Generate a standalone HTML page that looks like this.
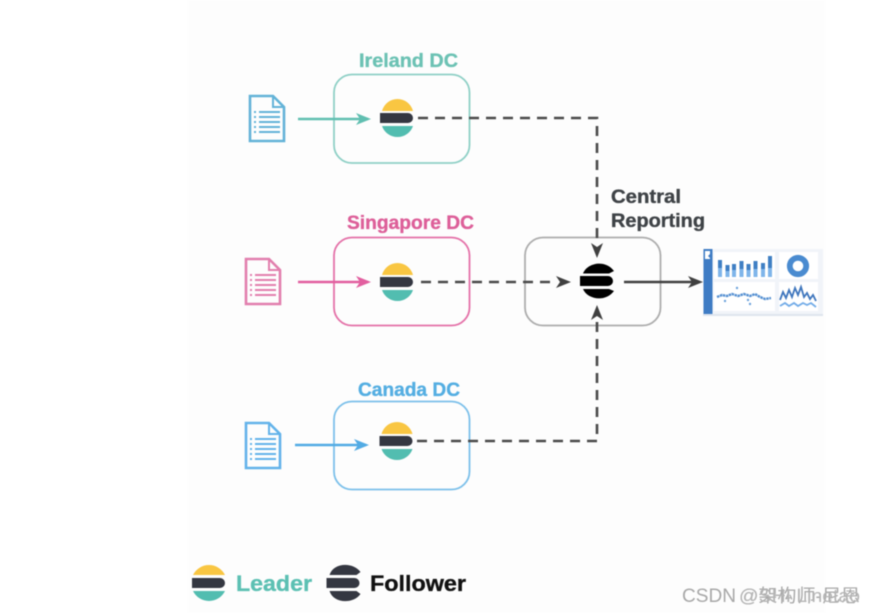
<!DOCTYPE html>
<html>
<head>
<meta charset="utf-8">
<style>
html,body{margin:0;padding:0;background:#fff;width:875px;height:613px;overflow:hidden}
svg{display:block;filter:blur(.6px)}
text{font-family:"Liberation Sans","Noto Sans CJK SC",sans-serif;font-weight:bold}
</style>
</head>
<body>
<svg width="875" height="613" viewBox="0 0 875 613" xmlns="http://www.w3.org/2000/svg">
<defs>
  <g id="lead">
    <path d="M-15.500-7A16 16 0 0 1 15.500-7Z" fill="#f9c642"/>
    <path d="M-17.500-5H10.500A5 5 0 0 1 10.500 5H-17.500Z" fill="#343741"/>
    <path d="M-15.500 8H15.500A16.400 16.400 0 0 1-15.500 8Z" fill="#52bdb0"/>
  </g>
  <g id="doc" fill="none" stroke-width="2.600">
    <path d="M-17-22H6L17-11V23H-17Z"/>
    <path d="M6-22V-11H17" stroke-width="2"/>
    <path d="M-8-6H13M-8-1H13M-8 4H13M-8 9H13M-8 14H13" stroke-width="2.100"/>
    <path d="M-13-6H-11M-13-1H-11M-13 4H-11M-13 9H-11M-13 14H-11" stroke-width="2.100"/>
  </g>
</defs>

<rect x="188" y="0" width="637" height="613" fill="#fdfdfd"/>

<!-- titles -->
<g stroke-width=".35">
<text x="359" y="67" font-size="19" fill="#6cc2b4" stroke="#6cc2b4" textLength="99" lengthAdjust="spacingAndGlyphs">Ireland DC</text>
<text x="347" y="229" font-size="19" fill="#dd5f99" stroke="#dd5f99" textLength="127" lengthAdjust="spacingAndGlyphs">Singapore DC</text>
<text x="358" y="396" font-size="19" fill="#54aee2" stroke="#54aee2" textLength="102" lengthAdjust="spacingAndGlyphs">Canada DC</text>
<text x="611" y="203" font-size="19" fill="#3f4347" stroke="#3f4347" textLength="70" lengthAdjust="spacingAndGlyphs">Central</text>
<text x="611" y="227" font-size="19" fill="#3f4347" stroke="#3f4347" textLength="94" lengthAdjust="spacingAndGlyphs">Reporting</text>
</g>

<!-- DC boxes -->
<rect x="334" y="74.500" width="135.500" height="88.500" rx="18" fill="none" stroke="#8fd0c6" stroke-width="1.800"/>
<rect x="334" y="237.500" width="135.500" height="88" rx="18" fill="none" stroke="#e471a8" stroke-width="1.800"/>
<rect x="334" y="401.500" width="135.500" height="88" rx="18" fill="none" stroke="#7cc0ea" stroke-width="1.800"/>
<rect x="525" y="237.500" width="135.500" height="88" rx="18" fill="none" stroke="#adadad" stroke-width="1.800"/>

<!-- docs -->
<use href="#doc" x="267" y="118" stroke="#63b3d8"/>
<use href="#doc" x="263" y="281" stroke="#e27fae"/>
<use href="#doc" x="263" y="445" stroke="#63b3ea"/>

<!-- input arrows -->
<g fill="none" stroke-width="2.400">
  <path d="M298 119H368" stroke="#60bfb1"/>
  <path d="M298 282H368" stroke="#e25f9f"/>
  <path d="M295 445H366" stroke="#52abe4"/>
</g>
<path d="M371 119L356 113L360 119L356 125Z" fill="#60bfb1"/>
<path d="M371 282L356 276L360 282L356 288Z" fill="#e25f9f"/>
<path d="M369 445L354 439L358 445L354 451Z" fill="#52abe4"/>

<!-- dashed -->
<g fill="none" stroke="#4a4a4a" stroke-width="2.600" stroke-dasharray="10 7">
  <path d="M418 118H597V238"/>
  <path d="M421 282H556"/>
  <path d="M417 441H597V322"/>
</g>
<path d="M597 258L591 243L597 247L603 243Z" fill="#404040"/>
<path d="M571 282L556 276L560 282L556 288Z" fill="#404040"/>
<path d="M597 305L591 320L597 316L603 320Z" fill="#404040"/>

<!-- logos -->
<use href="#lead" x="397.500" y="118"/>
<use href="#lead" x="397.500" y="282"/>
<use href="#lead" x="397" y="441"/>

<!-- central logo -->
<g transform="translate(597 281)" fill="#000">
  <path d="M-14-7.500C-10-18 8-22 17-10L12-7.500Z"/>
  <path d="M-17-5H11A5 5 0 0 1 11 5H-17Z"/>
  <path d="M-14 8H12L17 10C8 22-10 18-14 8Z"/>
</g>

<!-- output arrow -->
<path d="M624 282H698" stroke="#404040" stroke-width="2.400" fill="none"/>
<path d="M703 282L688 276L692 282L688 288Z" fill="#404040"/>

<!-- dashboard -->
<rect x="703" y="249" width="120" height="67" fill="#f1f4f9"/>
<rect x="703" y="314" width="120" height="2" fill="#dfe5ee"/>
<rect x="703.500" y="249" width="9" height="65" fill="#3f7cc4"/>
<path d="M705 251H710V254L708 256L710 258V259H705Z" fill="#fff"/>
<rect x="714" y="252" width="61" height="27" fill="#fff"/>
<rect x="779" y="252" width="39" height="27" fill="#fff"/>
<rect x="714" y="282" width="61" height="29" fill="#fff"/>
<rect x="779" y="282" width="39" height="29" fill="#fff"/>
<g fill="#3f7fc4">
  <rect x="718" y="260" width="4" height="17"/>
  <rect x="725.500" y="265" width="4" height="12"/>
  <rect x="732" y="264" width="4" height="13"/>
  <rect x="739.500" y="261" width="4" height="16"/>
  <rect x="746.500" y="264" width="4" height="13"/>
  <rect x="753.500" y="261" width="4" height="16"/>
  <rect x="761" y="263" width="4" height="14"/>
  <rect x="768" y="256" width="4" height="21"/>
</g>
<g fill="#7fb5ea">
  <rect x="718" y="268" width="4" height="9"/>
  <rect x="725.500" y="271" width="4" height="6"/>
  <rect x="732" y="270" width="4" height="7"/>
  <rect x="739.500" y="269" width="4" height="8"/>
  <rect x="746.500" y="270" width="4" height="7"/>
  <rect x="753.500" y="269" width="4" height="8"/>
  <rect x="761" y="269" width="4" height="8"/>
  <rect x="768" y="268" width="4" height="9"/>
</g>
<circle cx="798" cy="266" r="8.200" fill="none" stroke="#4a8bd0" stroke-width="5.800"/>
<path d="M717 297L722 295L727 296L732 294L738 296L744 294L750 296L755 294L760 297L765 299L771 298" fill="none" stroke="#5590d2" stroke-width="2.400" stroke-dasharray="2.500 .6"/>
<g fill="#6ea3dc">
  <circle cx="737" cy="288" r="1.200"/><circle cx="750" cy="304" r="1.200"/><circle cx="725" cy="301" r="1.200"/><circle cx="748" cy="300" r="1.200"/>
</g>
<path d="M780 300L783 292L786 298L789 290L792 297L795 288L798 295L801 287L804 297L807 293L810 299L813 295L816 301" fill="none" stroke="#3f76bd" stroke-width="1.800"/>
<path d="M780 306L785 303L789 306L794 303L798 306L803 303L807 305L811 303L816 307" fill="none" stroke="#73ace8" stroke-width="1.800"/>

<!-- legend -->
<g transform="translate(209 583)">
  <path d="M-16-8A17.800 17.800 0 0 1 16-8Z" fill="#f9c642"/>
  <path d="M-17-5H11A5 5 0 0 1 11 5H-17Z" fill="#343741"/>
  <path d="M-16 8A17.800 17.800 0 0 0 16 8Z" fill="#52bdb0"/>
</g>
<g transform="translate(343.500 583)" fill="#343741">
  <path d="M-14-8C-10-21 10-21 17-11L13-8Z"/>
  <path d="M-17-5H11A5 5 0 0 1 11 5H-17Z"/>
  <path d="M-14 8H13L17 11C10 21-10 21-14 8Z"/>
</g>
<g stroke-width=".35">
<text x="236" y="591" font-size="22" fill="#5cc0b3" stroke="#5cc0b3" textLength="76" lengthAdjust="spacingAndGlyphs">Leader</text>
<text x="370" y="591" font-size="22" fill="#111" stroke="#111" textLength="96" lengthAdjust="spacingAndGlyphs">Follower</text>
</g>

<!-- watermark -->
<text x="682" y="602" font-size="19" fill="#a8a8a8" style="font-weight:normal" textLength="54" lengthAdjust="spacingAndGlyphs">CSDN</text>
<text x="739" y="602" font-size="18" fill="#a8a8a8" style="font-weight:normal" textLength="121" lengthAdjust="spacingAndGlyphs">@架构师-尼恩</text>
<text x="739" y="602" font-size="18" fill="#b5b5b5" style="font-weight:normal" textLength="121" lengthAdjust="spacingAndGlyphs">@SHI Linetao</text>
</svg>
</body>
</html>
